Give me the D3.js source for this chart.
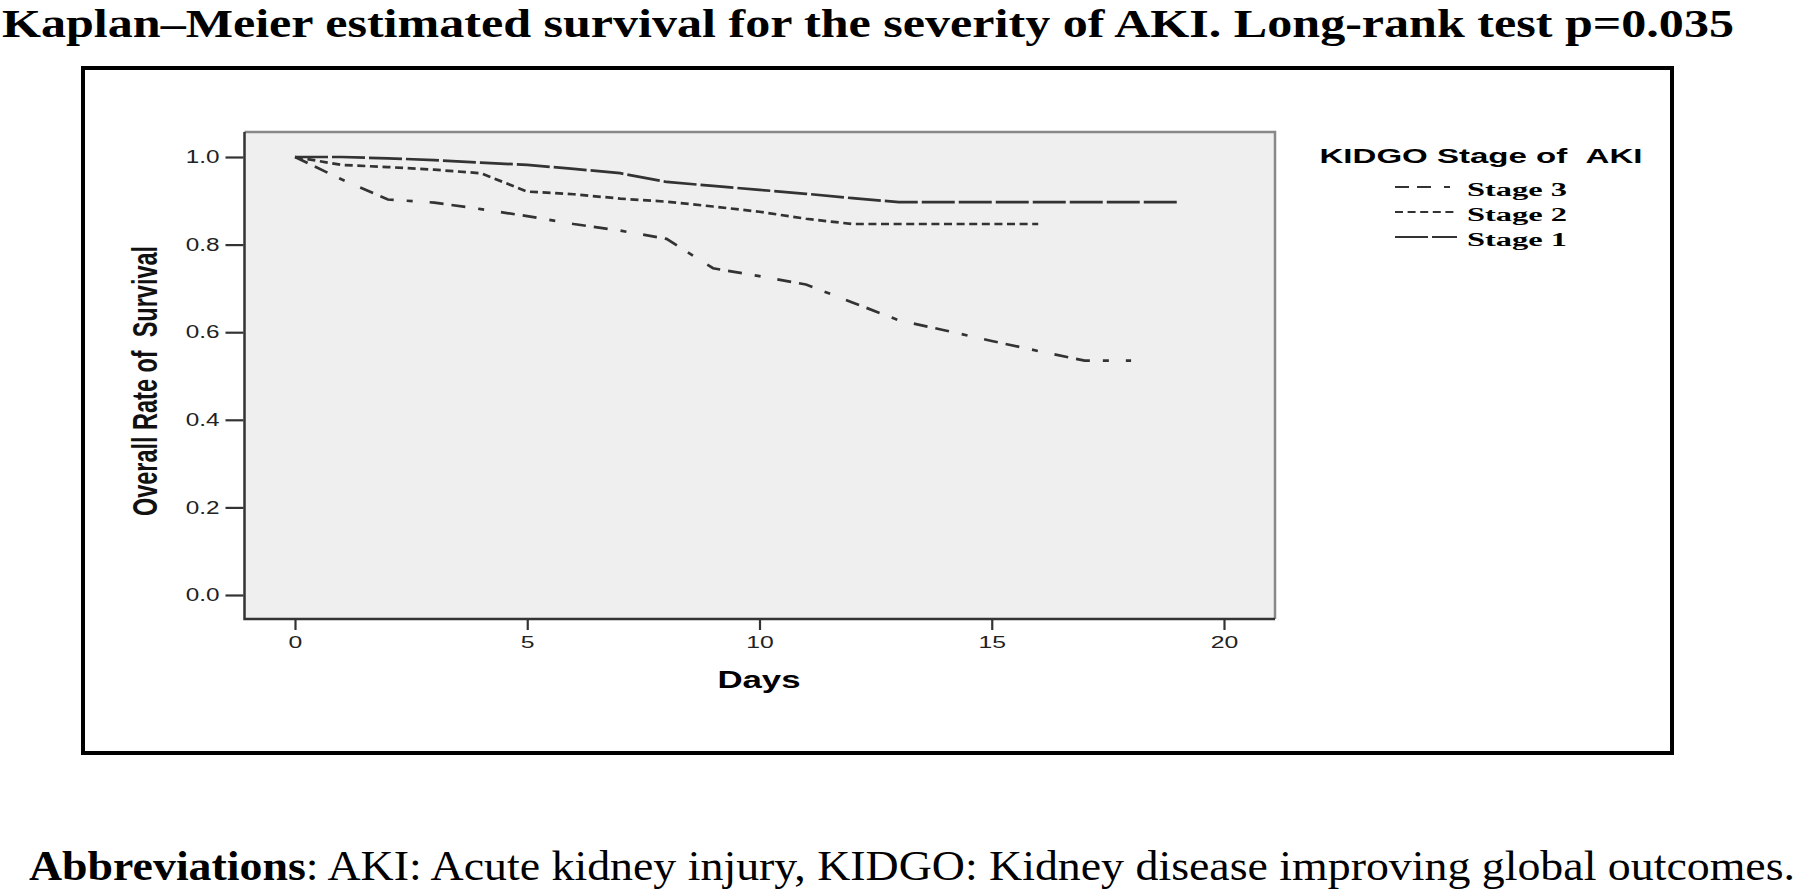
<!DOCTYPE html>
<html>
<head>
<meta charset="utf-8">
<script src="https://cdn.jsdelivr.net/npm/d3@7"></script>
<style>
  body { margin: 0; background: #fff; }
  svg { display: block; }
</style>
</head>
<body>
<svg id="svgContainer" width="1800" height="893"></svg>
<script>
// survival, one value per day
const days = [0, 1, 2, 3, 4, 5, 6, 7, 8, 9, 10, 11, 12, 13, 14, 15, 16, 17, 18, 19];
const stage1 = [1.0, 1.0, 0.997, 0.993, 0.987, 0.982, 0.973, 0.963, 0.943, 0.934, 0.925, 0.916, 0.906, 0.897, 0.897, 0.897, 0.897, 0.897, 0.897, 0.897];
const stage2 = [1.0, 0.982, 0.977, 0.971, 0.963, 0.921, 0.915, 0.905, 0.898, 0.887, 0.875, 0.859, 0.847, 0.847, 0.847, 0.847, 0.847];
const stage3 = [1.0, 0.949, 0.903, 0.896, 0.881, 0.865, 0.847, 0.832, 0.813, 0.746, 0.728, 0.709, 0.668, 0.627, 0.604, 0.58, 0.557, 0.535, 0.535];
const xTicks = [0, 5, 10, 15, 20];
const yTicks = [0, 0.2, 0.4, 0.6, 0.8, 1.0];
const legendLabels = ["Stage 3", "Stage 2", "Stage 1"];

const svg = d3.select("#svgContainer");

// the original chart is stretched sideways, so text gets widened too
function stretch(sel, k) {
  sel.each(function() {
    const w = this.getComputedTextLength();
    d3.select(this).attr("textLength", w * k).attr("lengthAdjust", "spacingAndGlyphs");
  });
}

// title
svg.append("text")
  .attr("x", 2).attr("y", 37)
  .attr("font-family", "Liberation Serif, Times New Roman, serif")
  .attr("font-weight", "bold").attr("font-size", 41)
  .attr("textLength", 1732).attr("lengthAdjust", "spacingAndGlyphs")
  .text("Kaplan\u2013Meier estimated survival for the severity of AKI. Long-rank test p=0.035");

// outer frame
svg.append("rect")
  .attr("x", 83).attr("y", 68).attr("width", 1589).attr("height", 685)
  .attr("fill", "none").attr("stroke", "#000").attr("stroke-width", 4);

const plot = { left: 244.5, right: 1275, top: 132, bottom: 619 };

const x = d3.scaleLinear().domain([0, 20]).range([295, 1224]);
const y = d3.scaleLinear().domain([0, 1]).range([595, 157]);

svg.append("rect")
  .attr("x", plot.left).attr("y", plot.top)
  .attr("width", plot.right - plot.left).attr("height", plot.bottom - plot.top)
  .attr("fill", "#efefef");

// top/right border light, left/bottom dark
svg.append("path")
  .attr("d", `M${plot.left},${plot.top}H${plot.right}V${plot.bottom}`)
  .attr("fill", "none").attr("stroke", "#888").attr("stroke-width", 2.5);
svg.append("path")
  .attr("d", `M${plot.left},${plot.top}V${plot.bottom}H${plot.right}`)
  .attr("fill", "none").attr("stroke", "#333").attr("stroke-width", 2.5);

// axes
const yAxis = svg.append("g")
  .attr("transform", `translate(${plot.left - 1},0)`)
  .call(d3.axisLeft(y).tickValues(yTicks).tickSize(18).tickPadding(6).tickFormat(d3.format(".1f")));
const xAxis = svg.append("g")
  .attr("transform", `translate(0,${plot.bottom + 1})`)
  .call(d3.axisBottom(x).tickValues(xTicks).tickSize(10).tickPadding(6));

[yAxis, xAxis].forEach(g => {
  g.select(".domain").remove();
  g.selectAll(".tick line").attr("stroke", "#333").attr("stroke-width", 2.2);
  g.selectAll(".tick text")
    .attr("fill", "#222")
    .attr("font-family", "Liberation Sans, Arial, sans-serif");
});
yAxis.selectAll(".tick text").attr("font-size", 18).call(stretch, 1.35);
xAxis.selectAll(".tick text").attr("font-size", 16.5).call(stretch, 1.5);

// axis titles
svg.append("text")
  .attr("x", 759).attr("y", 688)
  .attr("text-anchor", "middle")
  .attr("font-family", "Liberation Sans, Arial, sans-serif")
  .attr("font-weight", "bold").attr("font-size", 24)
  .text("Days")
  .call(stretch, 1.45);

svg.append("text")
  .attr("transform", "translate(156.5,381) rotate(-90) scale(1,1.5)")
  .attr("text-anchor", "middle")
  .attr("font-family", "Liberation Sans, Arial, sans-serif")
  .attr("font-weight", "bold").attr("font-size", 23.5)
  .attr("fill", "#111")
  .text("Overall Rate of \u00a0Survival");

// curves
const series = [
  { name: "Stage 3", values: stage3, dash: "14,8,14,13,6,17" },
  { name: "Stage 2", values: stage2, dash: "8,4.6" },
  { name: "Stage 1", values: stage1, dash: "33,4" }
];

const line = d3.line()
  .x((d, i) => x(days[i]))
  .y(d => y(d));

svg.append("g")
  .selectAll("path")
  .data(series)
  .join("path")
  .attr("d", d => line(d.values))
  .attr("fill", "none")
  .attr("stroke", "#333")
  .attr("stroke-width", 2.7)
  .attr("stroke-dasharray", d => d.dash);

// legend
svg.append("text")
  .attr("x", 1481).attr("y", 163)
  .attr("text-anchor", "middle")
  .attr("font-family", "Liberation Sans, Arial, sans-serif")
  .attr("font-weight", "bold").attr("font-size", 21)
  .attr("textLength", 323).attr("lengthAdjust", "spacingAndGlyphs")
  .text("KIDGO Stage of \u00a0AKI");

const legendY = d3.scalePoint().domain(legendLabels).range([196, 246]);

const items = svg.append("g")
  .selectAll("g")
  .data(series)
  .join("g")
  .attr("transform", d => `translate(0,${legendY(d.name)})`);

items.append("line")
  .attr("x1", 1395).attr("x2", 1457)
  .attr("y1", -9).attr("y2", -9)
  .attr("stroke", "#333").attr("stroke-width", 2)
  .attr("stroke-dasharray", d => d.dash);

items.append("text")
  .attr("x", 1467)
  .attr("font-family", "Liberation Serif, Times New Roman, serif")
  .attr("font-weight", "bold").attr("font-size", 18)
  .attr("textLength", 100).attr("lengthAdjust", "spacingAndGlyphs")
  .text(d => d.name);

// footnote
const note = svg.append("text")
  .attr("x", 29).attr("y", 880)
  .attr("font-family", "Liberation Serif, Times New Roman, serif")
  .attr("font-size", 43)
  .attr("textLength", 1766).attr("lengthAdjust", "spacingAndGlyphs");
note.append("tspan").attr("font-weight", "bold").text("Abbreviations");
note.append("tspan").text(": AKI: Acute kidney injury, KIDGO: Kidney disease improving global outcomes.");
</script>
</body>
</html>
